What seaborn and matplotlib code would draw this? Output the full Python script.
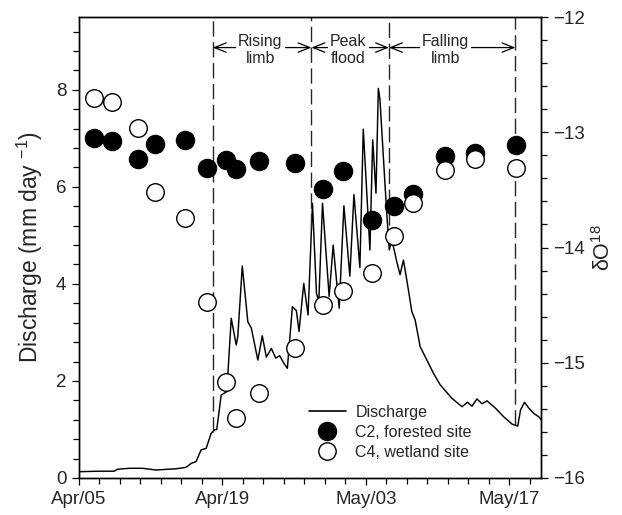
import numpy as np
import pandas as pd
import matplotlib
matplotlib.use("Agg")
import matplotlib.pyplot as plt
import matplotlib.dates as mdates
from matplotlib.ticker import MultipleLocator, FixedLocator
from matplotlib.lines import Line2D
import seaborn as sns

# ---------------- data ----------------
start_date = "2004-04-05"

# discharge trace (days after start, mm/day)
q_days = [0.0, 1.96, 3.43, 3.75, 4.90, 6.20, 7.51, 9.47, 10.45, 10.94, 11.43, 11.92,
          12.41, 12.90, 13.22, 13.45, 13.88, 14.20, 14.43, 14.86, 15.35, 15.50, 15.94,
          16.48, 16.82, 17.46, 17.89, 18.29, 18.78, 19.20, 19.59, 20.01, 20.34, 20.83,
          21.22, 21.48, 21.94, 22.36, 22.79, 23.18, 23.41, 23.77, 24.42, 24.81, 25.40,
          25.86, 26.44, 26.84, 27.42, 27.75, 28.40, 28.67, 28.99, 29.22, 29.38, 29.71,
          30.04, 30.29, 30.46, 30.69, 31.02, 31.34, 31.67, 32.00, 32.49, 32.81, 33.30,
          33.96, 34.60, 35.26, 36.41, 37.39, 37.93, 38.36, 38.85, 39.34, 39.83, 40.65,
          41.46, 42.28, 42.83, 43.10, 43.49, 43.91, 44.40, 44.89, 45.12]
q_values = [0.13, 0.14, 0.14, 0.18, 0.20, 0.20, 0.165, 0.19, 0.22, 0.30, 0.34, 0.58,
            0.61, 0.92, 0.99, 1.00, 1.71, 1.75, 1.78, 3.29, 2.74, 2.91, 4.37,
            3.22, 3.09, 2.43, 2.93, 2.49, 2.67, 2.47, 2.52, 2.36, 2.26, 3.53,
            3.45, 3.02, 4.01, 3.36, 5.66, 3.81, 3.63, 5.66, 3.74, 4.80, 3.50,
            5.61, 4.16, 5.84, 4.34, 7.19, 4.70, 6.97, 5.87, 8.03, 7.80, 6.62,
            5.46, 4.70, 4.84, 4.77, 4.46, 4.19, 4.49, 4.08, 3.43, 3.26, 2.71,
            2.43, 2.16, 1.92, 1.64, 1.47, 1.56, 1.48, 1.63, 1.53, 1.59, 1.44,
            1.26, 1.11, 1.07, 1.40, 1.56, 1.44, 1.33, 1.26, 1.20]

# isotope samples (days after start)
sample_days = [1.42, 3.18, 5.78, 7.39, 10.38, 12.47, 14.37, 15.35, 17.56, 21.11,
               23.83, 25.79, 28.57, 30.72, 32.59, 35.68, 38.62, 42.70]
c2_d18o = [-13.05, -13.08, -13.23, -13.10, -13.07, -13.31, -13.24, -13.32, -13.25,
           -13.27, -13.49, -13.34, -13.76, -13.64, -13.54, -13.21, -13.18, -13.11]
c4_d18o = [-12.70, -12.74, -12.96, -13.52, -13.74, -14.47, -15.17, -15.48, -15.26,
           -14.87, -14.50, -14.38, -14.22, -13.90, -13.61, -13.33, -13.23, -13.31]

phase_boundaries = [13.06, 22.69, 30.26, 42.6]
phase_labels = ["Rising\nlimb", "Peak\nflood", "Falling\nlimb"]
phase_label_days = [17.7, 26.3, 35.75]

x_tick_dates = ["2004-04-05", "2004-04-19", "2004-05-03", "2004-05-17"]
x_tick_labels = ["Apr/05", "Apr/19", "May/03", "May/17"]
left_ticks = [0, 2, 4, 6, 8]
right_ticks = [-16, -15, -14, -13, -12]

series_names = ["Discharge", "C2, forested site", "C4, wetland site"]

# ---------------- build frames ----------------
t0 = pd.Timestamp(start_date)
q_df = pd.DataFrame({"time": t0 + pd.to_timedelta(q_days, unit="D"), "Q": q_values})
s_df = pd.DataFrame({"time": t0 + pd.to_timedelta(sample_days, unit="D"),
                     "C2": c2_d18o, "C4": c4_d18o})

# ---------------- style ----------------
sns.set_theme(style="ticks")
plt.rcParams["font.family"] = ["Liberation Sans", "DejaVu Sans"]
plt.rcParams["mathtext.fontset"] = "custom"
plt.rcParams["mathtext.rm"] = "Liberation Sans"
plt.rcParams["mathtext.it"] = "Liberation Sans"

fig = plt.figure(figsize=(6.22, 5.15), dpi=100)
ax = fig.add_axes([79 / 622, 1 - 478 / 515, (541 - 79) / 622, (478 - 17) / 515])
ax2 = ax.twinx()

sns.lineplot(data=q_df, x="time", y="Q", ax=ax, color="black", lw=1.05, legend=False)

sns.scatterplot(data=s_df, x="time", y="C2", ax=ax2, color="black", edgecolor="black",
                s=175, linewidth=0.8, legend=False, zorder=3)
sns.scatterplot(data=s_df, x="time", y="C4", ax=ax2, color="white", edgecolor="black",
                s=160, linewidth=1.0, legend=False, zorder=4)

# phase boundary lines (from curve up to top)
x_end = 45.1
bounds_t = t0 + pd.to_timedelta(phase_boundaries, unit="D")
q_at = np.interp(phase_boundaries, q_days, q_values)
ax.vlines(bounds_t, q_at, 9.5, colors="0.15", linestyles=(0, (11, 4)), lw=1.0)

# arrows + labels
arrow_y = 8.87
for i in range(3):
    a = t0 + pd.Timedelta(days=phase_boundaries[i])
    b = t0 + pd.Timedelta(days=phase_boundaries[i + 1])
    ax.annotate("", xy=(mdates.date2num(b), arrow_y), xytext=(mdates.date2num(a), arrow_y),
                arrowprops=dict(arrowstyle="<->,head_length=0.7,head_width=0.28",
                                lw=0.9, color="black", shrinkA=0, shrinkB=0))
    ax.text(mdates.date2num(t0 + pd.Timedelta(days=phase_label_days[i])), 8.82,
            phase_labels[i], ha="center", va="center", fontsize=11.5, linespacing=1.1,
            bbox=dict(fc="white", ec="none", pad=1.5), zorder=5)

# axes limits / ticks
ax.set_xlim(mdates.date2num(t0), mdates.date2num(t0 + pd.Timedelta(days=x_end)))
ax.set_ylim(0, 9.5)
ax2.set_ylim(-16, -12)

ax.xaxis.set_major_locator(FixedLocator(mdates.date2num(pd.to_datetime(x_tick_dates))))
ax.set_xticklabels(x_tick_labels)
minor_x = [mdates.date2num(t0 + pd.Timedelta(days=d)) for d in range(0, 46, 2)]
ax.xaxis.set_minor_locator(FixedLocator(minor_x))

ax.set_yticks(left_ticks)
ax.yaxis.set_minor_locator(MultipleLocator(0.4))
ax2.set_yticks(right_ticks)
ax2.yaxis.set_minor_locator(MultipleLocator(0.2))

for a_ in (ax, ax2):
    a_.tick_params(which="major", direction="out", length=5, width=0.9, labelsize=13.5,
                   color="black", pad=4)
    a_.tick_params(which="minor", direction="out", length=4, width=0.9, color="black")
    for sp in a_.spines.values():
        sp.set_visible(True)
        sp.set_color("black")
        sp.set_linewidth(1.0)

ax.set_xlabel("")
ax.set_ylabel("Discharge (mm day $^{-1}$)", fontsize=16.5, labelpad=8)
ax2.set_ylabel(r"$\delta$O$^{18}$", fontsize=15.5, labelpad=5)

handles = [Line2D([], [], color="black", lw=1.2),
           Line2D([], [], marker="o", ls="none", mfc="black", mec="black", ms=13),
           Line2D([], [], marker="o", ls="none", mfc="white", mec="black", ms=12.5, mew=1.0)]
leg = ax2.legend(handles, series_names, loc="upper left",
                 bbox_to_anchor=((309 - 79) / 462, (478 - 405) / 461),
                 frameon=False, fontsize=11.5, handlelength=2.3, handletextpad=0.6,
                 labelspacing=0.3, borderaxespad=0, borderpad=0)

fig.savefig("out.png", dpi=100)
